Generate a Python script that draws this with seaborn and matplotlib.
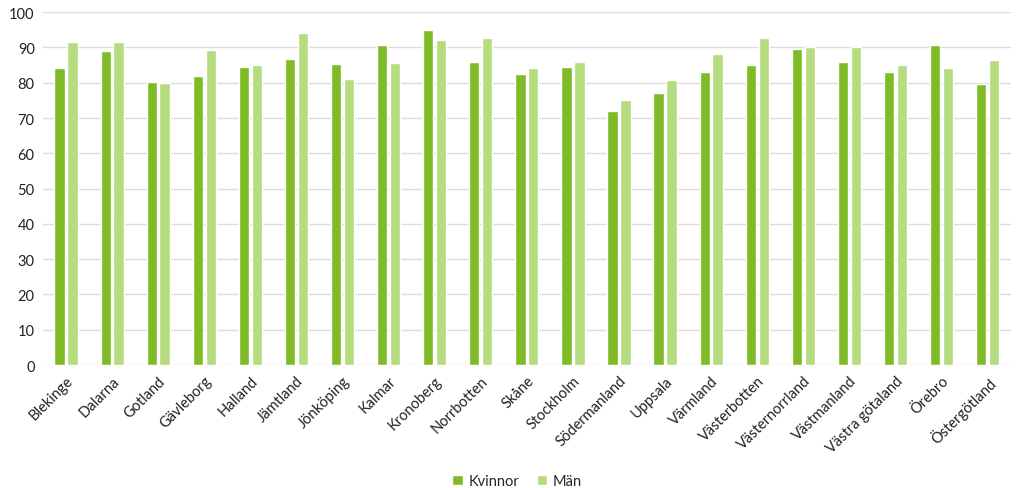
import pandas as pd
import numpy as np
import matplotlib
matplotlib.use('Agg')
import matplotlib.pyplot as plt
import seaborn as sns

# -----------------------------
# Data
# -----------------------------
regions = ['Blekinge', 'Dalarna', 'Gotland', 'Gävleborg', 'Halland', 'Jämtland',
           'Jönköping', 'Kalmar', 'Kronoberg', 'Norrbotten', 'Skåne', 'Stockholm',
           'Södermanland', 'Uppsala', 'Värmland', 'Västerbotten', 'Västernorrland',
           'Västmanland', 'Västra götaland', 'Örebro', 'Östergötland']
kvinnor = [84.1, 88.9, 80.1, 81.9, 84.4, 86.7, 85.3, 90.6, 94.9, 85.9, 82.6,
           84.6, 72.0, 77.1, 83.1, 84.9, 89.5, 86.0, 83.0, 90.6, 79.6]
man = [91.5, 91.6, 80.0, 89.4, 85.0, 94.0, 81.1, 85.5, 92.1, 92.6, 84.3,
       86.0, 75.1, 80.9, 88.1, 92.6, 90.2, 90.0, 84.9, 84.1, 86.5]

series = ['Kvinnor', 'Män']
colors = ['#7fba27', '#b5dc7e']

df = pd.DataFrame({'region': regions, 'Kvinnor': kvinnor, 'Män': man})
long_df = df.melt(id_vars='region', var_name='kon', value_name='andel')

# -----------------------------
# Plot
# -----------------------------
sns.set_style('white')
plt.rcParams['font.family'] = ['Lato', 'DejaVu Sans']

fig = plt.figure(figsize=(10.24, 4.89), dpi=100)
ax = fig.add_axes([0.042, 0.2515, 0.945, 0.7215])

sns.barplot(data=long_df, x='region', y='andel', hue='kon', hue_order=series,
            palette=colors, saturation=1, width=0.56, gap=0.2, ax=ax, legend=True)

ax.set_ylim(0, 100)
ax.set_xlim(-0.5, len(regions) - 0.5)
ax.set_yticks(range(0, 101, 10))
ax.yaxis.grid(True, color='#dcdcdc', linewidth=1)
ax.set_axisbelow(True)
for s in ax.spines.values():
    s.set_visible(False)
ax.set_xlabel('')
ax.set_ylabel('')
ax.tick_params(axis='both', length=0, labelsize=10.5, colors='#222222', pad=6)
plt.setp(ax.get_xticklabels(), rotation=45, ha='right', rotation_mode='anchor')

leg = ax.legend(loc='lower center', bbox_to_anchor=(0.49, -0.385), ncol=2,
                frameon=False, fontsize=10.5, handlelength=0.7, handleheight=0.7,
                handletextpad=0.4, columnspacing=1.2)

plt.savefig('out.png', dpi=100)
plt.close()
